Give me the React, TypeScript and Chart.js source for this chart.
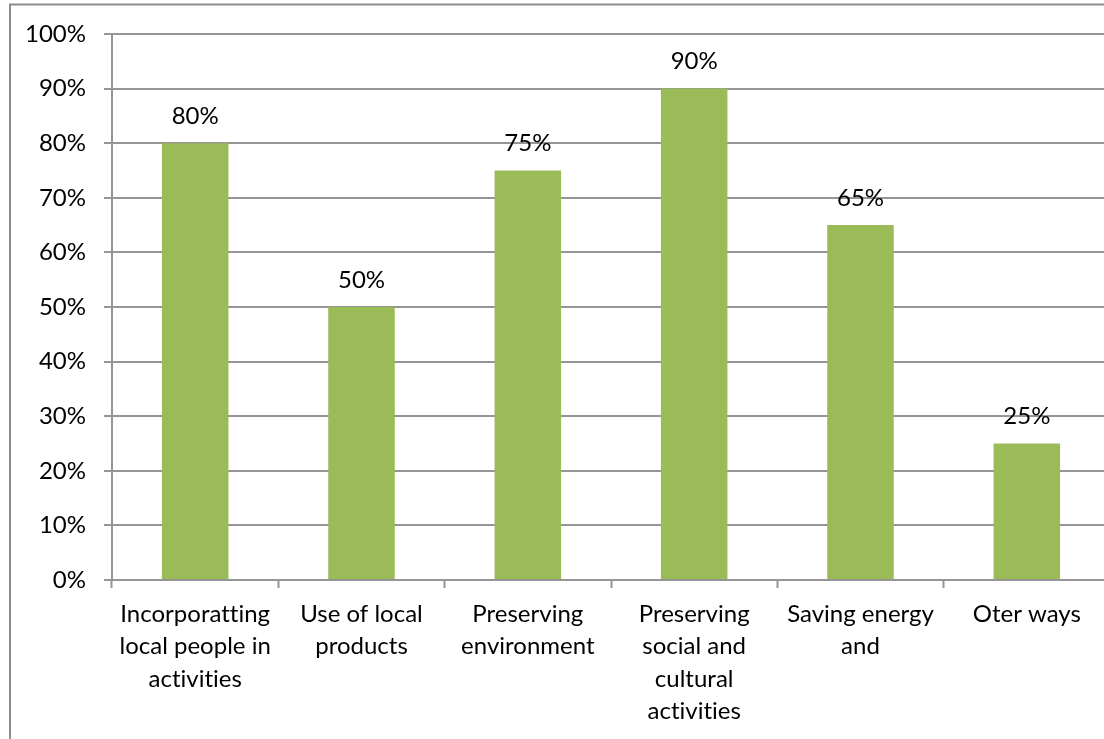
import React, { useEffect, useRef } from "react";
import { Chart, registerables } from "chart.js";

Chart.register(...registerables);

const categories: string[][] = [
  ["Incorporatting", "local people in", "activities"],
  ["Use of local", "products"],
  ["Preserving", "environment"],
  ["Preserving", "social and", "cultural", "activities"],
  ["Saving energy", "and"],
  ["Oter ways"],
];
const values: number[] = [80, 50, 75, 90, 65, 25];
const yTicks: number[] = [0, 10, 20, 30, 40, 50, 60, 70, 80, 90, 100];

const FONT = "Lato";
const FONT_SIZE = 24;
const GREY = "#959595";

const borderPlugin = {
  id: "outerBorder",
  beforeDraw(chart: any) {
    const ctx = chart.ctx;
    try {
      ctx.textRendering = "optimizeSpeed";
    } catch (e) {}
    ctx.save();
    ctx.fillStyle = "#ffffff";
    ctx.fillRect(0, 0, chart.width, chart.height);
    ctx.strokeStyle = "#8c8c8c";
    ctx.lineWidth = 2;
    ctx.beginPath();
    ctx.moveTo(10, chart.height + 5);
    ctx.lineTo(10, 4.5);
    ctx.lineTo(chart.width + 5, 4.5);
    ctx.stroke();
    ctx.restore();
  },
};

const dataLabelPlugin = {
  id: "valueLabels",
  afterDatasetsDraw(chart: any) {
    const ctx = chart.ctx;
    const meta = chart.getDatasetMeta(0);
    ctx.save();
    ctx.font = `${FONT_SIZE}px ${FONT}`;
    ctx.fillStyle = "#000000";
    ctx.textAlign = "center";
    ctx.textBaseline = "middle";
    meta.data.forEach((bar: any, i: number) => {
      ctx.fillText(`${values[i]}%`, bar.x, bar.y - 27);
    });
    ctx.restore();
  },
};

export default function App() {
  const ref = useRef<HTMLCanvasElement>(null);
  useEffect(() => {
    if (!ref.current) return;
    const chart = new Chart(ref.current, {
      type: "bar",
      data: {
        labels: categories,
        datasets: [
          {
            data: values,
            backgroundColor: "#9BBB59",
            borderWidth: 0,
            barPercentage: 0.4,
            categoryPercentage: 1,
          },
        ],
      },
      options: {
        responsive: false,
        animation: false,
        devicePixelRatio: 1,
        layout: { padding: { top: 34, right: 20, left: 0, bottom: 0 } },
        plugins: { legend: { display: false }, tooltip: { enabled: false } },
        scales: {
          x: {
            grid: {
              display: true,
              drawOnChartArea: false,
              drawTicks: true,
              tickLength: 8,
              tickColor: GREY,
              tickWidth: 2,
              offset: true,
            },
            border: { display: true, color: GREY, width: 2 },
            ticks: {
              color: "#000000",
              font: { family: FONT, size: FONT_SIZE, lineHeight: 32.5 / FONT_SIZE },
              maxRotation: 0,
              minRotation: 0,
              autoSkip: false,
              padding: 10,
            },
            afterFit(scale: any) {
              scale.height = 159;
            },
          },
          y: {
            min: 0,
            max: 100,
            afterBuildTicks(scale: any) {
              scale.ticks = yTicks.map((v) => ({ value: v }));
            },
            grid: {
              color: GREY,
              lineWidth: 2,
              tickLength: 8,
              tickColor: GREY,
              tickWidth: 2,
            },
            border: { display: true, color: GREY, width: 2 },
            ticks: {
              color: "#000000",
              font: { family: FONT, size: FONT_SIZE },
              padding: 18,
              callback: (v: any) => `${v}%`,
            },
            afterFit(scale: any) {
              scale.width = 112;
            },
          },
        },
      },
      plugins: [borderPlugin, dataLabelPlugin],
    });
    return () => chart.destroy();
  }, []);
  return (
    <div
      style={{
        position: "fixed",
        left: 0,
        top: 0,
        width: 1104,
        height: 739,
        overflow: "hidden",
        background: "#ffffff",
      }}
    >
      <canvas ref={ref} width={1130} height={739} style={{ display: "block" }} />
    </div>
  );
}
